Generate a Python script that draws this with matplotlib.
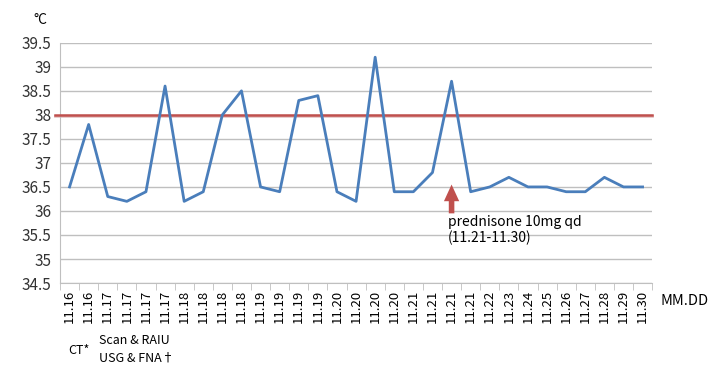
import matplotlib.pyplot as plt
import numpy as np

plt.rcParams['font.family'] = ['Noto Sans CJK KR', 'DejaVu Sans']

# Datos
fechas = ['11.16', '11.16', '11.17', '11.17', '11.17', '11.17', '11.18', '11.18',
          '11.18', '11.18', '11.19', '11.19', '11.19', '11.19', '11.20', '11.20',
          '11.20', '11.20', '11.21', '11.21', '11.21', '11.21', '11.22', '11.23',
          '11.24', '11.25', '11.26', '11.27', '11.28', '11.29', '11.30']
temperatura = [36.5, 37.8, 36.3, 36.2, 36.4, 38.6, 36.2, 36.4, 38.0, 38.5,
               36.5, 36.4, 38.3, 38.4, 36.4, 36.2, 39.2, 36.4, 36.4, 36.8,
               38.7, 36.4, 36.5, 36.7, 36.5, 36.5, 36.4, 36.4, 36.7, 36.5, 36.5]
umbral = 38.0
yticks = [34.5, 35, 35.5, 36, 36.5, 37, 37.5, 38, 38.5, 39, 39.5]
ytick_labels = ['34.5', '35', '35.5', '36', '36.5', '37', '37.5', '38', '38.5', '39', '39.5']

fig = plt.figure(figsize=(7.16, 3.69), dpi=100)
ax = fig.add_axes([0.0838, 0.233, 0.827, 0.651])

x = np.arange(len(temperatura))
# Línea de umbral con una pequeña sombra
ax.axhline(umbral - 0.03, xmin=-0.008, color='#e6c8c8', lw=2, zorder=2, clip_on=False)
ax.axhline(umbral, xmin=-0.008, color='#c0504d', lw=1.8, zorder=3, clip_on=False)
ax.plot(x, temperatura, color='#4a7ebb', lw=2, zorder=4)

ax.set_xlim(-0.5, len(temperatura) - 0.5)
ax.set_ylim(34.5, 39.5)
ax.set_yticks(yticks)
ax.set_yticklabels(ytick_labels, fontsize=11, color='#333333')
ax.yaxis.grid(True, color='#bfbfbf', lw=1)
ax.set_axisbelow(True)
ax.tick_params(axis='y', length=0, pad=6)

ax.set_xticks(x)
ax.set_xticklabels(fechas, rotation=90, fontsize=9.5)
ax.tick_params(axis='x', which='major', length=0, pad=5)
ax.set_xticks(np.arange(-0.5, len(temperatura), 1), minor=True)
ax.tick_params(axis='x', which='minor', length=5, color='#bfbfbf')

for s in ['top', 'right']:
    ax.spines[s].set_visible(False)
ax.spines['left'].set_color('#bfbfbf')
ax.spines['bottom'].set_color('#bfbfbf')

# Textos
fig.text(0.046, 0.945, '°C', fontsize=10, ha='left', va='center')
fig.text(0.922, 0.183, 'MM.DD', fontsize=10.5, ha='left', va='center')
fig.text(0.095, 0.05, 'CT*', fontsize=9, ha='left', va='center')
fig.text(0.138, 0.078, 'Scan & RAIU', fontsize=9, ha='left', va='center')
fig.text(0.138, 0.03, 'USG & FNA†', fontsize=9, ha='left', va='center')

ax.annotate('', xy=(20, 36.55), xytext=(20, 35.95),
            arrowprops=dict(arrowstyle='simple,head_width=0.55,head_length=0.6,tail_width=0.2',
                            mutation_scale=20, color='#c0504d', lw=0, shrinkA=0, shrinkB=0))
ax.text(19.8, 35.6, 'prednisone 10mg qd\n(11.21-11.30)', fontsize=10,
        ha='left', va='center', linespacing=1.2)

fig.savefig('out.png', dpi=100)
